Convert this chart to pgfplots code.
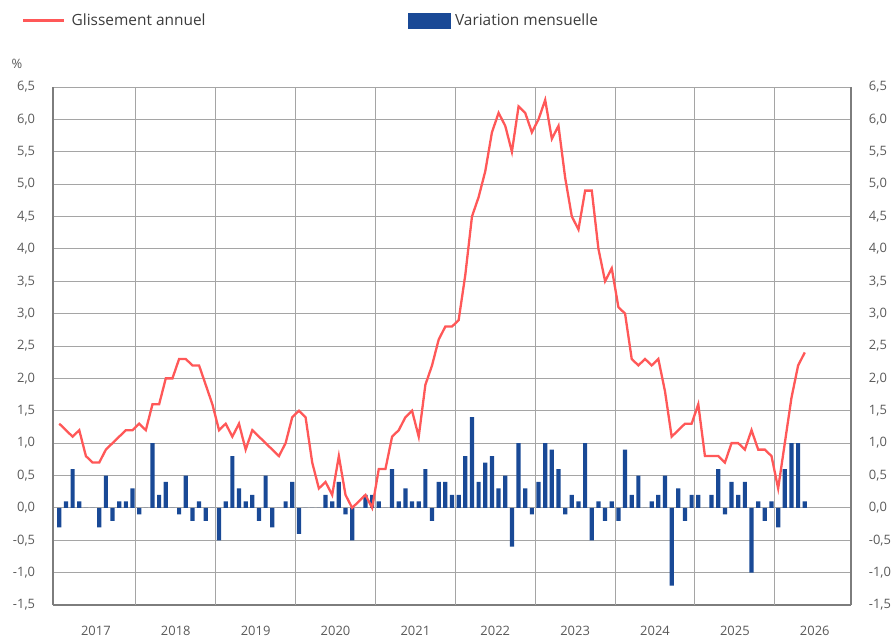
\documentclass[border=0pt]{standalone}
\usepackage{pgfplots}
\pgfplotsset{compat=1.18}
\usepackage{pgfplotstable}
\usepackage{fontspec}
\setmainfont{Open Sans}
\definecolor{linered}{RGB}{255,88,88}
\definecolor{barblue}{RGB}{25,73,150}
\definecolor{gridgray}{RGB}{165,165,165}
\definecolor{axisgray}{RGB}{125,125,125}
\definecolor{labgray}{RGB}{90,90,90}
\definecolor{legtext}{RGB}{60,60,60}

\pgfplotstableread{
x g v
0.5 1.3 -0.3
1.5 1.2 0.1
2.5 1.1 0.6
3.5 1.2 0.1
4.5 0.8 0.0
5.5 0.7 0.0
6.5 0.7 -0.3
7.5 0.9 0.5
8.5 1.0 -0.2
9.5 1.1 0.1
10.5 1.2 0.1
11.5 1.2 0.3
12.5 1.3 -0.1
13.5 1.2 0.0
14.5 1.6 1.0
15.5 1.6 0.2
16.5 2.0 0.4
17.5 2.0 0.0
18.5 2.3 -0.1
19.5 2.3 0.5
20.5 2.2 -0.2
21.5 2.2 0.1
22.5 1.9 -0.2
23.5 1.6 0.0
24.5 1.2 -0.5
25.5 1.3 0.1
26.5 1.1 0.8
27.5 1.3 0.3
28.5 0.9 0.1
29.5 1.2 0.2
30.5 1.1 -0.2
31.5 1.0 0.5
32.5 0.9 -0.3
33.5 0.8 0.0
34.5 1.0 0.1
35.5 1.4 0.4
36.5 1.5 -0.4
37.5 1.4 0.0
38.5 0.7 0.0
39.5 0.3 0.0
40.5 0.4 0.2
41.5 0.2 0.1
42.5 0.8 0.4
43.5 0.2 -0.1
44.5 0.0 -0.5
45.5 0.1 0.0
46.5 0.2 0.2
47.5 0.0 0.2
48.5 0.6 0.1
49.5 0.6 0.0
50.5 1.1 0.6
51.5 1.2 0.1
52.5 1.4 0.3
53.5 1.5 0.1
54.5 1.1 0.1
55.5 1.9 0.6
56.5 2.2 -0.2
57.5 2.6 0.4
58.5 2.8 0.4
59.5 2.8 0.2
60.5 2.9 0.2
61.5 3.6 0.8
62.5 4.5 1.4
63.5 4.8 0.4
64.5 5.2 0.7
65.5 5.8 0.8
66.5 6.1 0.3
67.5 5.9 0.5
68.5 5.5 -0.6
69.5 6.2 1.0
70.5 6.1 0.3
71.5 5.8 -0.1
72.5 6.0 0.4
73.5 6.3 1.0
74.5 5.7 0.9
75.5 5.9 0.6
76.5 5.1 -0.1
77.5 4.5 0.2
78.5 4.3 0.1
79.5 4.9 1.0
80.5 4.9 -0.5
81.5 4.0 0.1
82.5 3.5 -0.2
83.5 3.7 0.1
84.5 3.1 -0.2
85.5 3.0 0.9
86.5 2.3 0.2
87.5 2.2 0.5
88.5 2.3 0.0
89.5 2.2 0.1
90.5 2.3 0.2
91.5 1.8 0.5
92.5 1.1 -1.2
93.5 1.2 0.3
94.5 1.3 -0.2
95.5 1.3 0.2
96.5 1.6 0.2
97.5 0.8 0.0
98.5 0.8 0.2
99.5 0.8 0.6
100.5 0.7 -0.1
101.5 1.0 0.4
102.5 1.0 0.2
103.5 0.9 0.4
104.5 1.2 -1.0
105.5 0.9 0.1
106.5 0.9 -0.2
107.5 0.8 0.1
108.5 0.3 -0.3
109.5 1.0 0.6
110.5 1.7 1.0
111.5 2.2 1.0
112.5 2.4 0.1
}\data

\pgfplotsset{
  common/.style={
    at={(0,0)}, anchor=south west,
    scale only axis, width=797.4bp, height=518bp,
    xmin=-0.4, xmax=119.4, ymin=-1.5, ymax=6.5,
    ytick={-1.5,-1,-0.5,0,0.5,1,1.5,2,2.5,3,3.5,4,4.5,5,5.5,6,6.5},
    major tick length=0,
    axis line style={-, axisgray, line width=1.6bp},
    /pgf/number format/.cd, fixed, fixed zerofill, precision=1, use comma, assume math mode=true,
  }
}

\begin{document}
\begin{tikzpicture}
\path[use as bounding box] (-53.3bp,-32bp) rectangle (838.7bp,605bp);
\begin{axis}[
  common,
  clip=false,
  axis x line*=bottom, axis y line*=left,
  ymajorgrids,
  major grid style={gridgray, line width=1bp},
  xtick={6,18,30,42,54,66,78,90,102,114},
  xticklabels={2017,2018,2019,2020,2021,2022,2023,2024,2025,2026},
  extra x ticks={12,24,36,48,60,72,84,96,108},
  extra x tick labels={},
  extra x tick style={grid=major, major tick length=0},
  xticklabel style={font=\fontsize{13}{15}\selectfont, text=labgray, inner sep=0pt, anchor=north, yshift=-21bp},
  yticklabel style={font=\fontsize{13}{15}\selectfont, text=labgray, inner sep=0pt, anchor=east, xshift=-18bp},
  legend style={at={(axis description cs:-0.0393,1.1285)}, anchor=west, draw=none, fill=none,
    inner sep=0pt, font=\fontsize{15.5}{18}\selectfont, text=legtext,
    /tikz/every even column/.append style={column sep=200bp}},
  legend columns=2,
  legend cell align=left,
]
\addlegendimage{legend image code/.code={\draw[linered, line width=2.5bp] (0bp,0bp) -- (41bp,0bp);}}
\addlegendentry{\hspace{4bp}Glissement annuel}
\addlegendimage{legend image code/.code={\fill[barblue] (0bp,-7.5bp) rectangle (42bp,7.5bp);}}
\addlegendentry{\hspace{3bp}Variation mensuelle}
\addplot[ybar, bar width=4.2bp, fill=barblue, draw=none, forget plot] table[x=x, y=v] {\data};
\addplot[linered, line width=2.3bp, mark=none, forget plot] table[x=x, y=g] {\data};
\node[font=\fontsize{13}{15}\selectfont, text=labgray] at (axis description cs:-0.0455,1.0444) {\%};
\end{axis}
\begin{axis}[
  common,
  axis x line=none, axis y line*=right,
  yticklabel style={font=\fontsize{13}{15}\selectfont, text=labgray, inner sep=0pt, anchor=west, xshift=18bp},
]
\end{axis}
\end{tikzpicture}
\end{document}
